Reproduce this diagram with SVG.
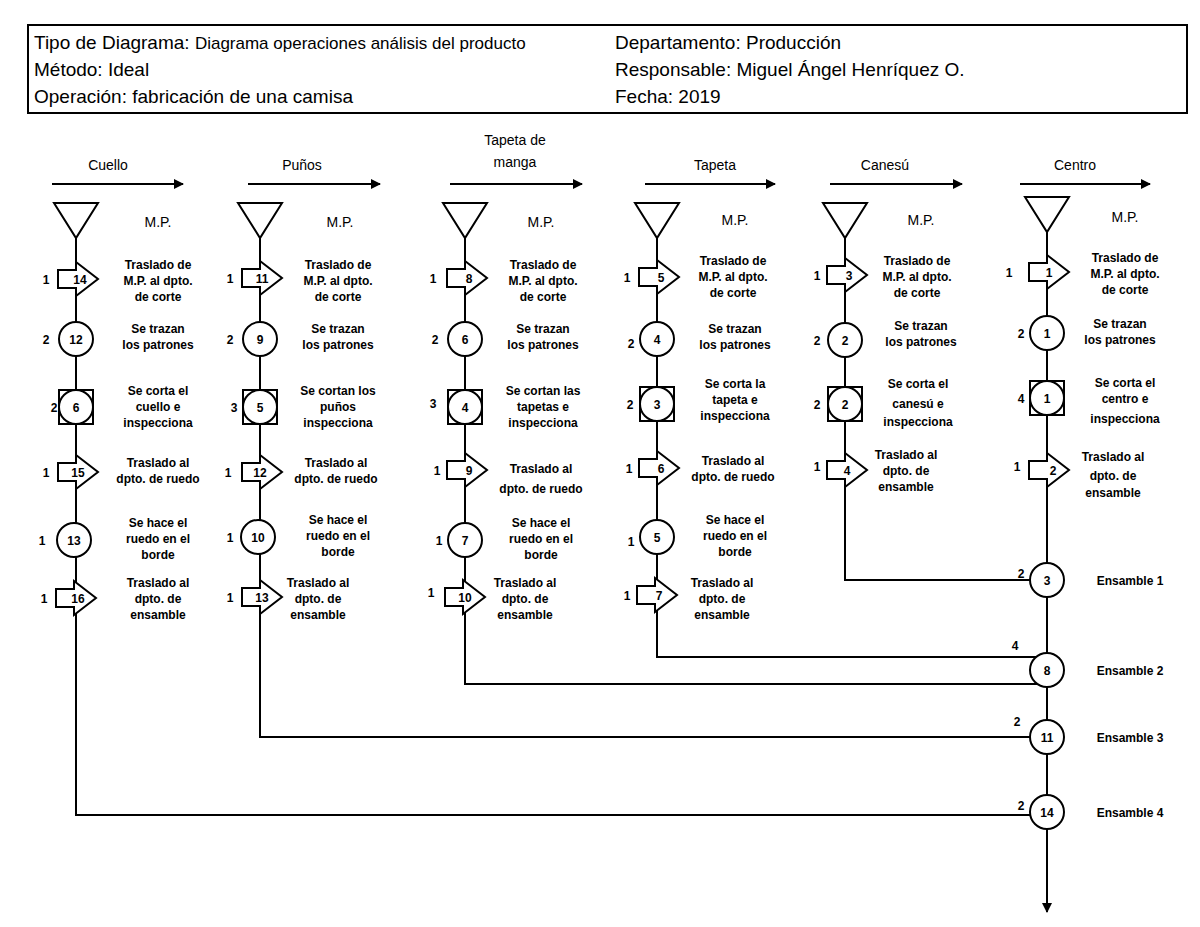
<svg xmlns="http://www.w3.org/2000/svg" width="1200" height="927" viewBox="0 0 1200 927">
<style>
.s{fill:#fff;stroke:#000;stroke-width:2}
.l{fill:none;stroke:#000;stroke-width:2}
.h{font-family:"Liberation Sans",Arial,sans-serif;font-size:19px}
.t{font-family:"Liberation Sans",Arial,sans-serif;font-size:12px;font-weight:bold;text-anchor:middle}
.n{font-family:"Liberation Sans",Arial,sans-serif;font-size:12px;font-weight:bold;text-anchor:middle}
.c{font-family:"Liberation Sans",Arial,sans-serif;font-size:14px;text-anchor:middle}
</style>
<defs>
<marker id="ar" markerWidth="10" markerHeight="10" refX="9" refY="5" orient="auto" markerUnits="userSpaceOnUse"><path d="M0,0 L10,5 L0,10 Z"/></marker>
<path id="mv" class="s" d="M-18,-9 H0 V-17 L22,0 L0,17 V9 H-18 Z"/>
<circle id="ci" class="s" r="17"/>
<g id="in"><rect class="s" x="-17" y="-17" width="34" height="34"/><circle class="s" r="17"/></g>
<path id="tr" class="s" d="M-22,0 H22 L0,35 Z"/>
</defs>
<rect width="1200" height="927" fill="#fff"/>
<g id="header">
<rect x="28" y="25" width="1159" height="88" class="l"/>
<text class="h" x="34" y="49">Tipo de Diagrama: <tspan font-size="17">Diagrama operaciones análisis del producto</tspan></text>
<text class="h" x="34" y="76">Método: Ideal</text>
<text class="h" x="34" y="103">Operación: fabricación de una camisa</text>
<text class="h" x="615" y="49">Departamento: Producción</text>
<text class="h" x="615" y="76">Responsable: Miguel Ángel Henríquez O.</text>
<text class="h" x="615" y="103">Fecha: 2019</text>
</g>
<g id="connectors">
<line class="l" x1="52" y1="184" x2="183" y2="184" marker-end="url(#ar)"/>
<line class="l" x1="248" y1="184" x2="380" y2="184" marker-end="url(#ar)"/>
<line class="l" x1="450" y1="184" x2="582" y2="184" marker-end="url(#ar)"/>
<line class="l" x1="645" y1="184" x2="775" y2="184" marker-end="url(#ar)"/>
<line class="l" x1="830" y1="184" x2="962" y2="184" marker-end="url(#ar)"/>
<line class="l" x1="1020" y1="184" x2="1150" y2="184" marker-end="url(#ar)"/>
<path class="l" d="M76,238 V815 H1031"/>
<path class="l" d="M260,238 V737 H1031"/>
<path class="l" d="M465,238 V684 H1037"/>
<path class="l" d="M657,238 V657 H1047"/>
<path class="l" d="M845,238 V580 H1031"/>
<line class="l" x1="1047" y1="232" x2="1047" y2="912" marker-end="url(#ar)"/>
</g>
<g class="c">
<text x="108" y="170">Cuello</text>
<text x="302" y="170">Puños</text>
<text x="515" y="145">Tapeta de</text><text x="515" y="167">manga</text>
<text x="715" y="170">Tapeta</text>
<text x="885" y="170">Canesú</text>
<text x="1075" y="170">Centro</text>
</g>
<g id="col1">
<use href="#tr" x="76" y="203"/><text class="c" x="158" y="227">M.P.</text>
<use href="#mv" x="76" y="279"/><text class="n" x="80" y="284">14</text><text class="n" x="46" y="284">1</text>
<text class="t" x="158" y="269">Traslado de</text><text class="t" x="158" y="285">M.P. al dpto.</text><text class="t" x="158" y="301">de corte</text>
<use href="#ci" x="76" y="339"/><text class="n" x="76" y="344">12</text><text class="n" x="46" y="344">2</text>
<text class="t" x="158" y="333">Se trazan</text><text class="t" x="158" y="349">los patrones</text>
<use href="#in" x="76" y="407"/><text class="n" x="76" y="412">6</text><text class="n" x="54" y="412">2</text>
<text class="t" x="158" y="395">Se corta el</text><text class="t" x="158" y="411">cuello e</text><text class="t" x="158" y="427">inspecciona</text>
<use href="#mv" x="76" y="472"/><text class="n" x="78" y="477">15</text><text class="n" x="46" y="477">1</text>
<text class="t" x="158" y="467">Traslado al</text><text class="t" x="158" y="483">dpto. de ruedo</text>
<use href="#ci" x="74" y="540"/><text class="n" x="74" y="545">13</text><text class="n" x="42" y="545">1</text>
<text class="t" x="158" y="527">Se hace el</text><text class="t" x="158" y="543">ruedo en el</text><text class="t" x="158" y="559">borde</text>
<use href="#mv" x="74" y="598"/><text class="n" x="78" y="603">16</text><text class="n" x="44" y="603">1</text>
<text class="t" x="158" y="587">Traslado al</text><text class="t" x="158" y="603">dpto. de</text><text class="t" x="158" y="619">ensamble</text>
</g>
<g id="col2">
<use href="#tr" x="260" y="203"/><text class="c" x="340" y="227">M.P.</text>
<use href="#mv" x="260" y="278"/><text class="n" x="262" y="283">11</text><text class="n" x="230" y="283">1</text>
<text class="t" x="338" y="269">Traslado de</text><text class="t" x="338" y="285">M.P. al dpto.</text><text class="t" x="338" y="301">de corte</text>
<use href="#ci" x="260" y="339"/><text class="n" x="260" y="344">9</text><text class="n" x="230" y="344">2</text>
<text class="t" x="338" y="333">Se trazan</text><text class="t" x="338" y="349">los patrones</text>
<use href="#in" x="260" y="407"/><text class="n" x="260" y="412">5</text><text class="n" x="234" y="412">3</text>
<text class="t" x="338" y="395">Se cortan los</text><text class="t" x="338" y="411">puños</text><text class="t" x="338" y="427">inspecciona</text>
<use href="#mv" x="260" y="472"/><text class="n" x="260" y="477">12</text><text class="n" x="228" y="477">1</text>
<text class="t" x="336" y="467">Traslado al</text><text class="t" x="336" y="483">dpto. de ruedo</text>
<use href="#ci" x="258" y="537"/><text class="n" x="258" y="542">10</text><text class="n" x="230" y="542">1</text>
<text class="t" x="338" y="524">Se hace el</text><text class="t" x="338" y="540">ruedo en el</text><text class="t" x="338" y="556">borde</text>
<use href="#mv" x="260" y="597"/><text class="n" x="262" y="602">13</text><text class="n" x="230" y="602">1</text>
<text class="t" x="318" y="587">Traslado al</text><text class="t" x="318" y="603">dpto. de</text><text class="t" x="318" y="619">ensamble</text>
</g>
<g id="col3">
<use href="#tr" x="465" y="203"/><text class="c" x="541" y="227">M.P.</text>
<use href="#mv" x="465" y="278"/><text class="n" x="469" y="283">8</text><text class="n" x="433" y="283">1</text>
<text class="t" x="543" y="269">Traslado de</text><text class="t" x="543" y="285">M.P. al dpto.</text><text class="t" x="543" y="301">de corte</text>
<use href="#ci" x="465" y="339"/><text class="n" x="465" y="344">6</text><text class="n" x="435" y="344">2</text>
<text class="t" x="543" y="333">Se trazan</text><text class="t" x="543" y="349">los patrones</text>
<use href="#in" x="465" y="407"/><text class="n" x="465" y="412">4</text><text class="n" x="433" y="408">3</text>
<text class="t" x="543" y="395">Se cortan las</text><text class="t" x="543" y="411">tapetas e</text><text class="t" x="543" y="427">inspecciona</text>
<use href="#mv" x="465" y="470"/><text class="n" x="469" y="475">9</text><text class="n" x="437" y="475">1</text>
<text class="t" x="541" y="473">Traslado al</text><text class="t" x="541" y="493">dpto. de ruedo</text>
<use href="#ci" x="465" y="540"/><text class="n" x="465" y="545">7</text><text class="n" x="439" y="545">1</text>
<text class="t" x="541" y="527">Se hace el</text><text class="t" x="541" y="543">ruedo en el</text><text class="t" x="541" y="559">borde</text>
<use href="#mv" x="463" y="597"/><text class="n" x="465" y="602">10</text><text class="n" x="431" y="597">1</text>
<text class="t" x="525" y="587">Traslado al</text><text class="t" x="525" y="603">dpto. de</text><text class="t" x="525" y="619">ensamble</text>
</g>
<g id="col4">
<use href="#tr" x="657" y="203"/><text class="c" x="735" y="225">M.P.</text>
<use href="#mv" x="657" y="277"/><text class="n" x="661" y="282">5</text><text class="n" x="627" y="282">1</text>
<text class="t" x="733" y="265">Traslado de</text><text class="t" x="733" y="281">M.P. al dpto.</text><text class="t" x="733" y="297">de corte</text>
<use href="#ci" x="657" y="339"/><text class="n" x="657" y="344">4</text><text class="n" x="631" y="348">2</text>
<text class="t" x="735" y="333">Se trazan</text><text class="t" x="735" y="349">los patrones</text>
<use href="#in" x="657" y="404"/><text class="n" x="657" y="409">3</text><text class="n" x="630" y="409">2</text>
<text class="t" x="735" y="388">Se corta la</text><text class="t" x="735" y="404">tapeta e</text><text class="t" x="735" y="420">inspecciona</text>
<use href="#mv" x="657" y="468"/><text class="n" x="661" y="473">6</text><text class="n" x="629" y="473">1</text>
<text class="t" x="733" y="465">Traslado al</text><text class="t" x="733" y="481">dpto. de ruedo</text>
<use href="#ci" x="657" y="537"/><text class="n" x="657" y="542">5</text><text class="n" x="631" y="546">1</text>
<text class="t" x="735" y="524">Se hace el</text><text class="t" x="735" y="540">ruedo en el</text><text class="t" x="735" y="556">borde</text>
<use href="#mv" x="655" y="595"/><text class="n" x="659" y="600">7</text><text class="n" x="627" y="600">1</text>
<text class="t" x="722" y="587">Traslado al</text><text class="t" x="722" y="603">dpto. de</text><text class="t" x="722" y="619">ensamble</text>
</g>
<g id="col5">
<use href="#tr" x="845" y="203"/><text class="c" x="921" y="225">M.P.</text>
<use href="#mv" x="845" y="275"/><text class="n" x="849" y="280">3</text><text class="n" x="817" y="280">1</text>
<text class="t" x="917" y="265">Traslado de</text><text class="t" x="917" y="281">M.P. al dpto.</text><text class="t" x="917" y="297">de corte</text>
<use href="#ci" x="845" y="340"/><text class="n" x="845" y="345">2</text><text class="n" x="817" y="345">2</text>
<text class="t" x="921" y="330">Se trazan</text><text class="t" x="921" y="346">los patrones</text>
<use href="#in" x="845" y="404"/><text class="n" x="845" y="409">2</text><text class="n" x="817" y="409">2</text>
<text class="t" x="918" y="388">Se corta el</text><text class="t" x="918" y="408">canesú e</text><text class="t" x="918" y="426">inspecciona</text>
<use href="#mv" x="845" y="470"/><text class="n" x="847" y="475">4</text><text class="n" x="817" y="471">1</text>
<text class="t" x="906" y="459">Traslado al</text><text class="t" x="906" y="475">dpto. de</text><text class="t" x="906" y="491">ensamble</text>
</g>
<g id="col6">
<use href="#tr" x="1047" y="197"/><text class="c" x="1125" y="222">M.P.</text>
<use href="#mv" x="1047" y="272"/><text class="n" x="1049" y="277">1</text><text class="n" x="1009" y="277">1</text>
<text class="t" x="1125" y="262">Traslado de</text><text class="t" x="1125" y="278">M.P. al dpto.</text><text class="t" x="1125" y="294">de corte</text>
<use href="#ci" x="1047" y="333"/><text class="n" x="1047" y="338">1</text><text class="n" x="1021" y="338">2</text>
<text class="t" x="1120" y="328">Se trazan</text><text class="t" x="1120" y="344">los patrones</text>
<use href="#in" x="1047" y="398"/><text class="n" x="1047" y="403">1</text><text class="n" x="1021" y="403">4</text>
<text class="t" x="1125" y="387">Se corta el</text><text class="t" x="1125" y="403">centro e</text><text class="t" x="1125" y="423">inspecciona</text>
<use href="#mv" x="1047" y="470"/><text class="n" x="1053" y="475">2</text><text class="n" x="1017" y="471">1</text>
<text class="t" x="1113" y="461">Traslado al</text><text class="t" x="1113" y="480">dpto. de</text><text class="t" x="1113" y="497">ensamble</text>
</g>
<g id="ens1"><use href="#ci" x="1047" y="580"/><text class="n" x="1047" y="585">3</text><text class="n" x="1021" y="578">2</text><text class="t" x="1130" y="585">Ensamble 1</text></g>
<g id="ens2"><use href="#ci" x="1047" y="670"/><text class="n" x="1047" y="675">8</text><text class="n" x="1015" y="650">4</text><text class="t" x="1130" y="675">Ensamble 2</text></g>
<g id="ens3"><use href="#ci" x="1047" y="737"/><text class="n" x="1047" y="742">11</text><text class="n" x="1017" y="726">2</text><text class="t" x="1130" y="742">Ensamble 3</text></g>
<g id="ens4"><use href="#ci" x="1047" y="812"/><text class="n" x="1047" y="817">14</text><text class="n" x="1021" y="810">2</text><text class="t" x="1130" y="817">Ensamble 4</text></g>
</svg>
